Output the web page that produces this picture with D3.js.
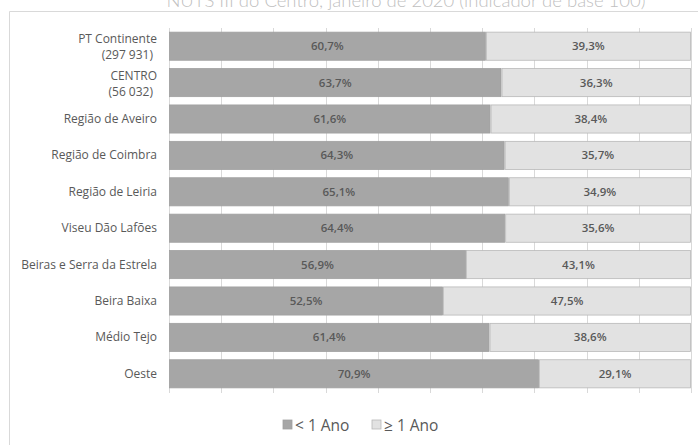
<!DOCTYPE html>
<html><head><meta charset="utf-8">
<script src="https://cdn.jsdelivr.net/npm/d3@7"></script>
<style>body{margin:0;background:#fff}svg{display:block}</style>
</head><body>
<svg id="c" width="698" height="445"></svg>
<script>
const categories = [["PT Continente","(297 931)"],["CENTRO","(56 032)"],["Região de Aveiro"],["Região de Coimbra"],["Região de Leiria"],["Viseu Dão Lafões"],["Beiras e Serra da Estrela"],["Beira Baixa"],["Médio Tejo"],["Oeste"]];
const lessOneYear = [60.7,63.7,61.6,64.3,65.1,64.4,56.9,52.5,61.4,70.9];
const oneYearPlus = [39.3,36.3,38.4,35.7,34.9,35.6,43.1,47.5,38.6,29.1];
const seriesNames = ["< 1 Ano","≥ 1 Ano"];
const titleText = "NUTS III do Centro, janeiro de 2020 (indicador de base 100)";

const svg = d3.select("#c");
const colors = ["#a6a6a6","#e2e2e2"];
const strokes = ["#a0a0a0","#b8b8b8"];

// frame
svg.append("path").attr("d","M9.5,445 V11.5 H698").attr("fill","none").attr("stroke","#d9d9d9").attr("stroke-width",1);
svg.append("text").attr("x",406).attr("y",7).attr("text-anchor","middle")
  .attr("font-family","Lato").attr("font-weight",300).attr("font-size",18.5).attr("fill","#bfbfbf").text(titleText);

const x = d3.scaleLinear().domain([0,100]).range([169,691]);
const y = d3.scaleBand().domain(d3.range(categories.length)).range([28,392]).paddingInner(0.2).paddingOuter(0.1);

const g = svg.append("g");
g.selectAll("line.grid").data(x.ticks(10)).join("line")
  .attr("x1",d=>Math.round(x(d))+0.5).attr("x2",d=>Math.round(x(d))+0.5)
  .attr("y1",28).attr("y2",393).attr("stroke","#d9d9d9");

const data = categories.map((c,i)=>({i, vals:[lessOneYear[i], oneYearPlus[i]]}));
data.forEach(d=>{
  let acc=0;
  d.vals.forEach((v,k)=>{
    const x0=x(acc), x1=x(acc+v);
    g.append("rect").attr("x",x0+0.5).attr("y",y(d.i)+0.5).attr("width",x1-x0-1).attr("height",y.bandwidth()-1)
      .attr("fill",colors[k]).attr("stroke",strokes[k]).attr("stroke-width",0.8);
    g.append("text").attr("x",(x0+x1)/2).attr("y",y(d.i)+y.bandwidth()/2+4)
      .attr("text-anchor","middle").attr("font-family","Open Sans").attr("font-weight",600)
      .attr("font-size",11.5).attr("fill","#595959").text(v.toFixed(1).replace(".",",")+"%");
    acc+=v;
  });
});

// category labels
categories.forEach((c,i)=>{
  const cy = y(i)+y.bandwidth()/2;
  const t = g.append("text").attr("text-anchor","end").attr("font-family","Open Sans")
    .attr("font-size",12).attr("fill","#595959");
  if(c.length===1){
    t.append("tspan").attr("x",157).attr("y",cy+4).text(c[0]);
  } else {
    t.append("tspan").attr("x",157).attr("y",cy-3).text(c[0]);
    t.append("tspan").attr("x",153).attr("y",cy+13).text(c[1]);
  }
});

// legend
const leg = svg.append("g").attr("font-family","Open Sans").attr("font-size",15.5).attr("fill","#595959");
const lx=[283,372];
seriesNames.forEach((n,k)=>{
  leg.append("rect").attr("x",lx[k]).attr("y",420).attr("width",9).attr("height",9)
    .attr("fill",colors[k]).attr("stroke",strokes[k]).attr("stroke-width",0.8);
  leg.append("text").attr("x",lx[k]+12).attr("y",430.5).text(n);
});
</script>
</body></html>
